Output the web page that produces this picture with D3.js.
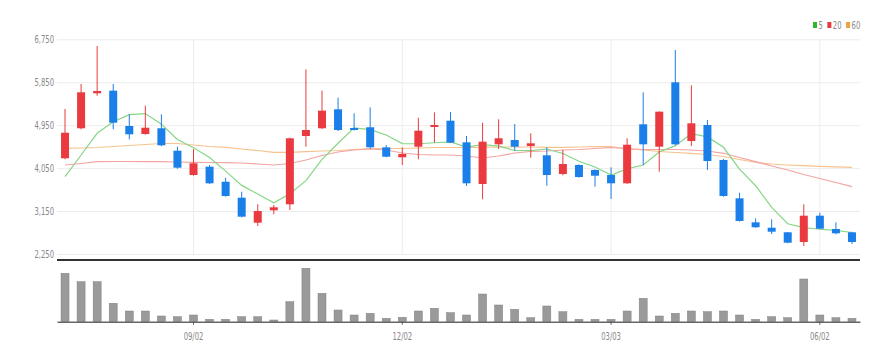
<!DOCTYPE html>
<html>
<head>
<meta charset="utf-8">
<script src="https://cdn.jsdelivr.net/npm/d3@7"></script>
<style>
  body { margin: 0; background: #fff; }
  text { font-family: "Liberation Sans Narrow", "DejaVu Sans Condensed", "Liberation Sans", sans-serif; }
</style>
</head>
<body>
<script>
var width = 896,
    height = 362,
    left = 57,
    right = 860;

// weekly candles (monday of each week)
var dates = ["2024-07-08","2024-07-15","2024-07-22","2024-07-29","2024-08-05","2024-08-12","2024-08-19","2024-08-26",
    "2024-09-02","2024-09-09","2024-09-16","2024-09-23","2024-09-30","2024-10-07","2024-10-14","2024-10-21","2024-10-28",
    "2024-11-04","2024-11-11","2024-11-18","2024-11-25","2024-12-02","2024-12-09","2024-12-16","2024-12-23","2024-12-30",
    "2025-01-06","2025-01-13","2025-01-20","2025-01-27","2025-02-03","2025-02-10","2025-02-17","2025-02-24",
    "2025-03-03","2025-03-10","2025-03-17","2025-03-24","2025-03-31","2025-04-07","2025-04-14","2025-04-21","2025-04-28",
    "2025-05-05","2025-05-12","2025-05-19","2025-05-26","2025-06-02","2025-06-09","2025-06-16"];

var opens  = [4256,4885,5618,5673,4933,4765,4885,4415,3906,4080,3765,3430,2906,3166,3292,4723,4885,5283,4891,4906,4486,4277,4499,4912,5044,4591,3717,4549,4639,4514,4319,3927,4115,4011,3906,3732,4968,4499,5849,4618,4954,4220,3417,2914,2801,2705,2502,3053,2774,2705];
var highs  = [5289,5813,6610,5813,5178,5358,5178,4499,4451,4115,3849,3556,3292,3277,4690,6121,5673,5526,5199,5325,4535,4486,5107,5220,5226,4723,5002,5073,4975,4780,4486,4430,4130,4025,4067,4675,5639,5240,6526,5786,5059,4240,3535,2998,2977,2710,3292,3116,2914,2715];
var lows   = [4235,4864,5568,4864,4654,4750,4510,4038,3891,3717,3451,3019,2837,3082,3172,4499,4870,4828,4840,4457,4277,4115,4235,4583,4575,3675,3397,4451,4415,4268,3682,3900,3850,3661,3403,3720,4115,3975,4530,4514,4011,3450,2930,2800,2669,2475,2418,2770,2663,2460];
var closes = [4792,5639,5666,5002,4759,4897,4528,4059,4151,3732,3466,3032,3151,3229,4675,4849,5254,4849,4849,4486,4289,4346,4834,4954,4583,3732,4604,4675,4499,4570,3906,4136,3864,3891,3732,4541,4549,5233,4549,4989,4199,3466,2942,2810,2717,2487,3053,2780,2684,2502];
var volumes = [484000,400000,400000,184000,107000,107000,57000,50000,67000,24000,24000,50000,50000,17000,200000,534000,284000,117000,67000,84000,34000,44000,107000,134000,90000,67000,277000,167000,124000,40000,157000,100000,24000,24000,24000,107000,234000,57000,84000,107000,100000,107000,67000,24000,50000,40000,427000,67000,40000,34000];

// moving averages
var ma5  = [3870,4325,4780,5023,5172,5193,4970,4649,4479,4273,3987,3688,3506,3322,3511,3787,4232,4571,4895,4857,4745,4564,4561,4582,4601,4490,4541,4510,4419,4416,4451,4357,4195,4073,3906,4033,4115,4389,4521,4772,4704,4487,4029,3681,3227,2884,2802,2769,2744,2701];
var ma20 = [4115,4147,4185,4189,4189,4185,4185,4178,4172,4168,4164,4157,4136,4115,4147,4220,4315,4388,4430,4451,4430,4367,4336,4325,4325,4304,4262,4304,4367,4398,4409,4430,4440,4461,4482,4461,4440,4440,4440,4430,4409,4361,4273,4185,4094,4011,3916,3832,3749,3661];
var ma60 = [4465,4472,4482,4503,4524,4545,4566,4566,4535,4503,4486,4451,4419,4382,4382,4394,4409,4419,4440,4461,4461,4461,4472,4482,4482,4482,4486,4493,4493,4493,4486,4486,4493,4503,4499,4451,4430,4398,4377,4361,4336,4294,4231,4168,4136,4115,4101,4088,4078,4067];

var tickDates = ["2024-09-02","2024-12-02","2025-03-03","2025-06-02"];
var tickLabels = ["09/02","12/02","03/03","06/02"];
var priceTicks = [2250,3150,4050,4950,5850,6750];

var maNames = ["5","20","60"];
var maColors = ["#2eb82e","#ea3a3f","#f0a040"];
var lineColors = ["#86d686","#f4a3a3","#f7c28e"];

var svg = d3.select("body")
    .append("svg")
    .attr("width", width)
    .attr("height", height)
    .style("background", "#fff");

var x = d3.scaleBand().domain(dates).range([left, right]);
var y = d3.scaleLinear().domain([2250, 6750]).range([254, 39.3]);
var yVol = d3.scaleLinear().domain([0, 550000]).range([321.7, 266.7]);

var bw = 8;
var cx = function(i) { return x(dates[i]) + x.bandwidth() / 2; };

// squeeze labels to look like a narrow font
function narrow(sel) {
    sel.each(function() {
        var len = this.getComputedTextLength();
        d3.select(this)
            .attr("textLength", len * 0.76)
            .attr("lengthAdjust", "spacingAndGlyphs");
    });
}

// horizontal grid + price labels
var yAxis = d3.axisLeft(y)
    .tickValues(priceTicks)
    .tickFormat(d3.format(","))
    .tickSizeInner(-(right - left))
    .tickSizeOuter(0)
    .tickPadding(3);

var gy = svg.append("g")
    .attr("transform", "translate(" + left + ",0)")
    .call(yAxis);
gy.select(".domain").remove();
gy.selectAll("line").attr("stroke", "#ececec");
gy.selectAll("text").attr("fill", "#888").style("font-size", "10px").call(narrow);

// vertical grid at date ticks
svg.append("g").selectAll("line")
    .data(tickDates)
    .enter()
    .append("line")
    .attr("x1", d => x(d) + x.bandwidth() / 2)
    .attr("x2", d => x(d) + x.bandwidth() / 2)
    .attr("y1", y(6750))
    .attr("y2", y(2250))
    .attr("stroke", "#ececec");

// moving average lines
[ma60, ma20, ma5].forEach(function(arr, k) {
    var idx = 2 - k;
    var line = d3.line()
        .x((d, i) => cx(i))
        .y(d => y(d));
    svg.append("path")
        .datum(arr)
        .attr("d", line)
        .attr("fill", "none")
        .attr("stroke", lineColors[idx])
        .attr("stroke-width", 1.2);
});

// candles
var idx = d3.range(dates.length);
var candles = svg.append("g").selectAll("g")
    .data(idx)
    .enter()
    .append("g");

candles.append("line")
    .attr("x1", i => cx(i))
    .attr("x2", i => cx(i))
    .attr("y1", i => y(highs[i]))
    .attr("y2", i => y(lows[i]))
    .attr("stroke", i => closes[i] >= opens[i] ? "#ea3a3f" : "#1b7fe9")
    .attr("stroke-width", 1);

candles.append("rect")
    .attr("x", i => cx(i) - bw / 2)
    .attr("width", bw)
    .attr("y", i => y(Math.max(opens[i], closes[i])))
    .attr("height", i => Math.max(1.5, Math.abs(y(opens[i]) - y(closes[i]))))
    .attr("fill", i => closes[i] >= opens[i] ? "#ea3a3f" : "#1b7fe9");

// dark separator line under price panel
svg.append("line")
    .attr("x1", left)
    .attr("x2", right)
    .attr("y1", 260)
    .attr("y2", 260)
    .attr("stroke", "#333")
    .attr("stroke-width", 2);

// volume bars
svg.append("g").selectAll("rect")
    .data(idx)
    .enter()
    .append("rect")
    .attr("x", i => cx(i) - bw / 2)
    .attr("width", bw)
    .attr("y", i => yVol(volumes[i]))
    .attr("height", i => yVol(0) - yVol(volumes[i]))
    .attr("fill", "#9a9a9a")
    .attr("stroke", "#808080")
    .attr("stroke-width", 0.5);

// date axis
var xAxis = d3.axisBottom(x)
    .tickValues(tickDates)
    .tickFormat(d => tickLabels[tickDates.indexOf(d)])
    .tickSizeInner(3)
    .tickSizeOuter(0)
    .tickPadding(8);

var gx = svg.append("g")
    .attr("transform", "translate(0," + yVol(0) + ")")
    .call(xAxis);
gx.select(".domain").attr("stroke", "#666").attr("stroke-width", 1.5);
gx.selectAll("line").attr("stroke", "#555");
gx.selectAll("text").attr("fill", "#888").style("font-size", "10px").call(narrow);

// legend
var legend = svg.append("g").attr("transform", "translate(813,22)");
var lx = 0;
maNames.forEach(function(n, i) {
    legend.append("rect")
        .attr("x", lx)
        .attr("y", 0)
        .attr("width", 4)
        .attr("height", 6)
        .attr("fill", maColors[i]);
    var t = legend.append("text")
        .attr("x", lx + 5.5)
        .attr("y", 6.5)
        .attr("fill", "#888")
        .style("font-size", "10px")
        .text(n);
    var len = t.node().getComputedTextLength() * 0.76;
    t.attr("textLength", len).attr("lengthAdjust", "spacingAndGlyphs");
    lx += 5.5 + len + 4.5;
});
</script>
</body>
</html>
